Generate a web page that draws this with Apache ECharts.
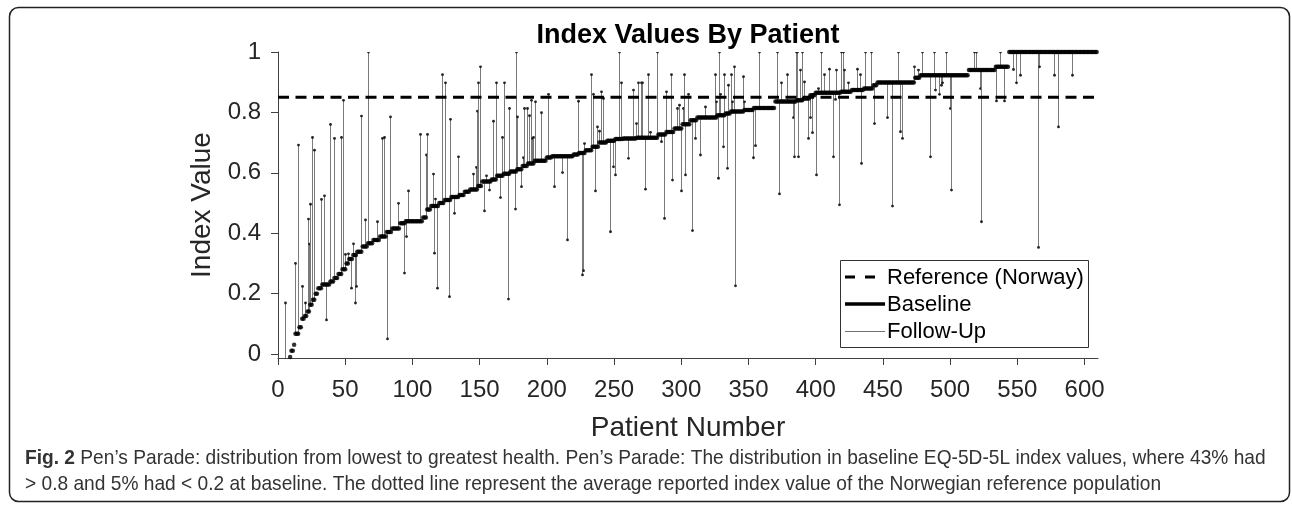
<!DOCTYPE html>
<html>
<head>
<meta charset="utf-8">
<script src="https://cdn.jsdelivr.net/npm/echarts@6/dist/echarts.min.js"></script>
<style>
  html, body { margin: 0; padding: 0; background: #fff; }
  #chart { width: 1292px; height: 506px; }
</style>
</head>
<body>
<div id="chart"></div>
<script>
// sorted baseline index values, stored as runs (value, number of patients)
var baselineLevels = [-0.3, -0.2, -0.15, -0.1, -0.07, -0.05, -0.035, -0.02, -0.01,
  0.011, 0.031, 0.067, 0.089, 0.117, 0.126, 0.141, 0.163, 0.18, 0.2,
  0.218, 0.23, 0.24, 0.252, 0.265, 0.281, 0.3, 0.315, 0.328, 0.339,
  0.356, 0.367, 0.378, 0.389, 0.404, 0.416, 0.433, 0.44, 0.452, 0.479,
  0.49, 0.5, 0.51, 0.52, 0.527, 0.537, 0.545, 0.556, 0.571, 0.578,
  0.59, 0.597, 0.604, 0.612, 0.623, 0.631, 0.64, 0.651, 0.655, 0.661,
  0.666, 0.675, 0.686, 0.7, 0.706, 0.712, 0.714, 0.716, 0.727, 0.735,
  0.747, 0.761, 0.774, 0.783, 0.791, 0.796, 0.803, 0.808, 0.815, 0.836,
  0.84, 0.846, 0.857, 0.865, 0.868, 0.874, 0.879, 0.89, 0.899, 0.915,
  0.923, 0.94, 0.951, 1];
var baselineCounts = [1, 1, 1, 1, 1, 1, 1, 1, 1,
  2, 1, 3, 2, 2, 2, 2, 2, 2, 2,
  3, 6, 3, 3, 3, 3, 2, 3, 3, 4,
  4, 4, 5, 5, 4, 6, 4, 13, 3, 3,
  6, 4, 5, 6, 4, 4, 6, 3, 7, 4,
  5, 5, 5, 4, 4, 5, 9, 4, 16, 4,
  5, 5, 5, 6, 6, 6, 10, 16, 6, 6,
  6, 6, 5, 15, 6, 4, 10, 7, 16, 16,
  5, 5, 4, 19, 8, 9, 7, 3, 28, 4,
  36, 20, 10, 66];

// patients with a follow-up value, and that value
var followPatient = [5, 13, 15, 18, 20, 22, 23, 24, 25, 27, 32, 34, 36, 39, 42, 47, 48, 50, 52, 54,
  56, 57, 58, 62, 65, 67, 74, 77, 79, 81, 83, 89, 94, 95, 97, 106, 110, 111, 115, 116,
  117, 118, 122, 124, 127, 128, 131, 134, 145, 147, 148, 149, 150, 153, 155, 157, 160, 162, 165, 167,
  168, 171, 172, 176, 177, 178, 181, 182, 183, 185, 187, 188, 189, 190, 191, 196, 201, 205, 211, 215,
  223, 226, 227, 228, 233, 234, 236, 237, 239, 240, 242, 247, 249, 251, 254, 255, 260, 264, 266, 268,
  270, 271, 273, 275, 277, 282, 285, 287, 289, 292, 293, 297, 298, 300, 301, 302, 303, 305, 308, 310,
  314, 318, 325, 326, 327, 328, 329, 331, 332, 334, 335, 337, 338, 339, 340, 346, 347, 353, 355, 358,
  371, 373, 374, 379, 383, 384, 385, 386, 387, 388, 390, 391, 394, 396, 397, 398, 400, 402, 404, 406,
  410, 413, 414, 415, 417, 419, 420, 421, 424, 431, 433, 434, 437, 441, 443, 453, 457, 461, 463, 464,
  473, 476, 479, 485, 488, 489, 492, 493, 494, 497, 500, 501, 518, 519, 522, 523, 534, 537, 540, 547,
  549, 552, 565, 566, 577, 580, 591];
var followValue = [0.169, 0.30, 0.692, 0.224, 0.169, 0.447, 0.364, 0.496, 0.717, 0.675, 0.512, 0.524, 0.113, 0.76, 0.714, 0.717, 0.84, 0.33, 0.332, 0.218,
  0.365, 0.169, 0.224, 0.788, 0.444, 1.0, 0.438, 0.714, 0.717, 0.05, 0.785, 0.499, 0.268, 0.389, 0.54, 0.727, 0.659, 0.727, 0.596, 0.334,
  0.513, 0.218, 0.925, 0.898, 0.19, 0.777, 0.466, 0.653, 0.596, 0.618, 0.804, 0.898, 0.951, 0.474, 0.59, 0.543, 0.771, 0.898, 0.518, 0.717,
  0.898, 0.182, 0.813, 0.48, 1.0, 0.785, 0.554, 0.65, 0.813, 0.813, 0.789, 0.84, 0.714, 0.717, 0.835, 0.799, 0.86, 0.554, 0.601, 0.378,
  0.837, 0.262, 0.276, 0.697, 0.925, 0.86, 0.54, 0.752, 0.738, 0.868, 0.846, 0.405, 0.62, 0.593, 1.0, 0.898, 0.648, 0.874, 0.763, 0.898,
  0.898, 0.898, 0.546, 0.925, 0.734, 1.0, 0.703, 0.449, 0.868, 0.925, 0.576, 0.813, 0.824, 0.54, 0.813, 0.925, 0.593, 0.86, 0.409, 0.714,
  0.659, 0.818, 0.925, 0.835, 0.582, 1.0, 0.86, 0.686, 0.925, 0.615, 0.89, 0.925, 0.835, 0.951, 0.226, 0.918, 0.835, 0.65, 0.69, 1.0,
  1.0, 0.53, 0.898, 0.925, 0.783, 0.653, 1.0, 1.0, 0.653, 0.94, 1.0, 0.901, 0.714, 0.783, 0.733, 0.86, 0.593, 0.879, 1.0, 0.925,
  0.943, 0.653, 0.843, 0.94, 0.494, 1.0, 1.0, 0.94, 0.898, 0.943, 0.925, 0.631, 1.0, 1.0, 0.763, 0.783, 0.49, 1.0, 0.736, 0.714,
  0.951, 0.94, 1.0, 0.653, 1.0, 0.874, 0.86, 0.89, 0.898, 1.0, 0.813, 0.543, 1.0, 1.0, 0.879, 0.438, 0.838, 1.0, 0.838, 0.942,
  0.898, 0.923, 0.353, 0.951, 0.923, 0.752, 0.923];

var referenceValue = 0.85;
var xTicks = [0, 50, 100, 150, 200, 250, 300, 350, 400, 450, 500, 550, 600];
var yTicks = [0, 0.2, 0.4, 0.6, 0.8, 1];

var captionLine1 = '{b|Fig. 2} Pen\u2019s Parade: distribution from lowest to greatest health. Pen\u2019s Parade: The distribution in baseline EQ-5D-5L index values, where 43% had';
var captionLine2 = '> 0.8 and 5% had < 0.2 at baseline. The dotted line represent the average reported index value of the Norwegian reference population';

var font = '"Liberation Sans", Arial, Helvetica, sans-serif';

// one value per patient from the runs
var baseline = [];
for (var i = 0; i < baselineLevels.length; ++i) {
  for (var j = 0; j < baselineCounts[i]; ++j) {
    baseline.push(baselineLevels[i]);
  }
}
var baselineData = baseline.map(function(v, k) {
  return [k + 1, v];
});
var followData = followPatient.map(function(p, k) {
  return [p, baseline[p - 1], followValue[k]];
});

function renderFollowUp(params, api) {
  var p0 = api.coord([api.value(0), api.value(1)]);
  var p1 = api.coord([api.value(0), api.value(2)]);
  // snap to the pixel grid so the thin stems stay crisp
  var x = Math.round(p0[0]) + 0.5;
  return {
    type: 'group',
    children: [{
      type: 'line',
      shape: {x1: x, y1: p0[1], x2: x, y2: p1[1]},
      style: {stroke: '#7a7a7a', lineWidth: 1}
    }, {
      type: 'circle',
      shape: {cx: x, cy: p1[1], r: 1.4},
      style: {fill: '#222'}
    }]
  };
}

var axisColor = '#404040';
var textColor = '#262626';

var option = {
  animation: false,
  backgroundColor: '#fff',
  title: {
    text: 'Index Values By Patient',
    left: 688,
    top: 22,
    padding: 0,
    textAlign: 'center',
    textStyle: {fontFamily: font, fontSize: 27, fontWeight: 'bold', color: '#000'}
  },
  grid: {left: 278, top: 52, width: 820, height: 306, containLabel: false},
  xAxis: {
    type: 'value',
    min: 0,
    max: 610,
    name: 'Patient Number',
    nameLocation: 'middle',
    nameGap: 56,
    nameTextStyle: {fontFamily: font, fontSize: 28, color: textColor},
    axisLine: {show: true, onZero: false, lineStyle: {color: axisColor, width: 1}},
    axisTick: {show: true, inside: false, length: 7, customValues: xTicks, lineStyle: {color: axisColor}},
    axisLabel: {customValues: xTicks, margin: 20, fontFamily: font, fontSize: 24, color: textColor},
    splitLine: {show: false}
  },
  yAxis: {
    type: 'value',
    min: -0.013,
    max: 1,
    name: 'Index Value',
    nameLocation: 'middle',
    nameGap: 56,
    nameTextStyle: {fontFamily: font, fontSize: 28, color: textColor},
    axisLine: {show: true, lineStyle: {color: axisColor, width: 1}},
    axisTick: {show: true, inside: false, length: 7, customValues: yTicks, lineStyle: {color: axisColor}},
    axisLabel: {customValues: yTicks, margin: 17, fontFamily: font, fontSize: 24, color: textColor},
    splitLine: {show: false}
  },
  series: [{
    type: 'custom',
    name: 'Follow-Up',
    clip: true,
    silent: true,
    encode: {x: 0, y: [1, 2]},
    renderItem: renderFollowUp,
    data: followData,
    z: 2
  }, {
    type: 'line',
    name: 'Reference (Norway)',
    silent: true,
    symbol: 'none',
    data: [[0, referenceValue], [610, referenceValue]],
    lineStyle: {color: '#000', width: 3, type: [11, 6.5]},
    z: 3
  }, {
    type: 'scatter',
    name: 'Baseline',
    silent: true,
    clip: true,
    symbolSize: 4.5,
    itemStyle: {color: '#000'},
    data: baselineData,
    z: 4
  }],
  graphic: [
    // figure frame
    {type: 'rect', shape: {x: 9.5, y: 7.5, width: 1280, height: 494, r: 9},
      style: {fill: 'none', stroke: '#222', lineWidth: 1.5}, z: 100},
    // legend
    {type: 'rect', shape: {x: 840.5, y: 260.5, width: 248, height: 87},
      style: {fill: '#fff', stroke: '#333', lineWidth: 1}, z: 100},
    {type: 'line', shape: {x1: 845, y1: 277, x2: 885, y2: 277},
      style: {stroke: '#000', lineWidth: 3, lineDash: [10, 10]}, z: 101},
    {type: 'line', shape: {x1: 845, y1: 304, x2: 885, y2: 304},
      style: {stroke: '#000', lineWidth: 3.5}, z: 101},
    {type: 'line', shape: {x1: 845, y1: 331.5, x2: 885, y2: 331.5},
      style: {stroke: '#707070', lineWidth: 1}, z: 101},
    {type: 'text', x: 887, y: 278, z: 101,
      style: {text: 'Reference (Norway)', fontFamily: font, fontSize: 22, fill: '#000', verticalAlign: 'middle'}},
    {type: 'text', x: 887, y: 305, z: 101,
      style: {text: 'Baseline', fontFamily: font, fontSize: 22, fill: '#000', verticalAlign: 'middle'}},
    {type: 'text', x: 887, y: 332, z: 101,
      style: {text: 'Follow-Up', fontFamily: font, fontSize: 22, fill: '#000', verticalAlign: 'middle'}},
    // caption
    {type: 'text', x: 25, y: 458, scaleX: 0.912, z: 101,
      style: {text: captionLine1, fontFamily: font, fontSize: 21, fill: '#333', verticalAlign: 'middle',
        rich: {b: {fontFamily: font, fontSize: 21, fontWeight: 'bold', fill: '#333'}}}},
    {type: 'text', x: 25, y: 484, scaleX: 0.912, z: 101,
      style: {text: captionLine2, fontFamily: font, fontSize: 21, fill: '#333', verticalAlign: 'middle'}}
  ]
};

var chart = echarts.init(document.getElementById('chart'));
chart.setOption(option);
</script>
</body>
</html>
